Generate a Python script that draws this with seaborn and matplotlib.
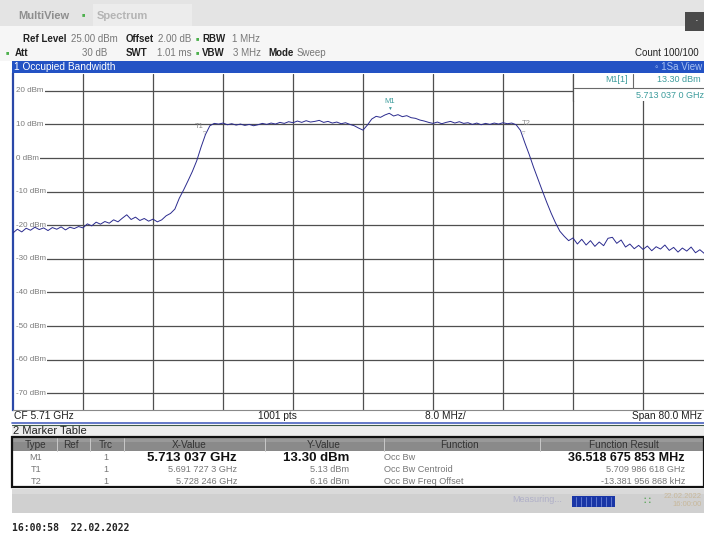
import numpy as np
import matplotlib
matplotlib.use("Agg")
import matplotlib.pyplot as plt
import seaborn as sns
from matplotlib.patches import Rectangle
from matplotlib.lines import Line2D
from matplotlib.transforms import blended_transform_factory

# ---------------- data ----------------
sweep_start_mhz = 5670.0
sweep_stop_mhz = 5750.0
sweep_points = 161
level_dbm = [
    -22.3, -21.2, -22.0, -20.9, -21.5, -20.6, -21.3, -20.8, -21.6, -20.7, -21.2, -20.5, -21.4, -20.6, -21.0, -20.4, -20.8,
    -19.6, -20.2, -19.1, -19.7, -18.9, -19.4, -18.4, -19.0, -17.9, -16.9, -18.3, -17.6, -18.6, -18.0, -18.8, -18.2, -19.0, -18.4, -17.2, -16.5,
    -15.2, -12.0, -9.5, -6.8, -4.0, -0.8, 3.3, 7.0, 9.6, 10.3,
    10.1, 10.4, 9.9, 10.2, 9.8, 10.1, 9.7, 10.0, 9.6, 9.9, 10.3, 10.0, 10.4, 10.1, 10.6, 10.3, 10.8, 10.5, 11.0, 10.6, 11.1, 10.7, 10.9, 11.2, 10.6, 10.9, 10.4, 10.7, 10.2, 10.5, 10.0, 9.6, 8.9,
    8.3, 9.8, 11.6, 12.4, 12.1, 12.8, 13.3, 12.5, 12.9, 12.3, 12.6, 12.0, 11.8, 11.3, 11.0, 10.6, 10.3, 10.7, 10.2, 10.6, 10.9, 10.4, 10.8, 10.3, 10.5, 10.0, 10.4, 9.9, 10.3, 10.0, 10.4, 10.1, 10.5, 10.2, 10.4, 9.9, 8.2,
    4.5, 1.0, -2.8, -6.3, -9.8, -13.2, -16.4, -19.3, -21.8, -23.3, -24.6,
    -23.8, -25.6, -24.2, -25.9, -24.6, -26.3, -25.0, -26.1, -23.9, -23.6, -25.4, -24.4, -26.5, -25.6, -27.0, -26.0, -27.2, -26.2, -27.6, -26.4, -27.1, -25.9, -27.5, -26.6, -28.0, -26.8, -27.7, -26.5, -28.2, -27.3, -28.4, -27.6, -28.3,
]
freq_mhz = np.linspace(sweep_start_mhz, sweep_stop_mhz, sweep_points)

ytick_vals = [20, 10, 0, -10, -20, -30, -40, -50, -60, -70]
ytick_labels = ["20 dBm", "10 dBm", "0 dBm", "-10 dBm", "-20 dBm", "-30 dBm",
                "-40 dBm", "-50 dBm", "-60 dBm", "-70 dBm"]
xgrid_mhz = [5678, 5686, 5694, 5702, 5710, 5718, 5726, 5734, 5742]

marker_names = ["M1", "T1", "T2"]
marker_freq = [5713.037, 5691.7273, 5728.246]
marker_level = [13.30, 5.13, 6.16]

tbl_type = ["M1", "T1", "T2"]
tbl_trc = ["1", "1", "1"]
tbl_x = ["5.713 037 GHz", "5.691 727 3 GHz", "5.728 246 GHz"]
tbl_y = ["13.30 dBm", "5.13 dBm", "6.16 dBm"]
tbl_func = ["Occ Bw", "Occ Bw Centroid", "Occ Bw Freq Offset"]
tbl_result = ["36.518 675 853 MHz", "5.709 986 618 GHz", "-13.381 956 868 kHz"]

# ---------------- figure ----------------
sns.set_style("white")
plt.rcParams["font.family"] = ["Liberation Sans", "DejaVu Sans"]

W, H = 704, 539
fig = plt.figure(figsize=(W / 100, H / 100), dpi=100)
fig.patch.set_facecolor("white")


def fx(x):
    return x / W


def fy(y):
    return 1 - y / H


def frect(x0, y0, x1, y1, color, z=0.1, **kw):
    fig.patches.append(Rectangle((fx(x0), fy(y1)), (x1 - x0) / W, (y1 - y0) / H,
                                 transform=fig.transFigure, facecolor=color,
                                 edgecolor="none", zorder=z, **kw))


def fline(x0, y0, x1, y1, color, lw=1.0, z=4):
    fig.lines.append(Line2D([fx(x0), fx(x1)], [fy(y0), fy(y1)], transform=fig.transFigure,
                            color=color, lw=lw, zorder=z))


def ftxt(x, y, s, **kw):
    kw.setdefault("va", "center")
    kw.setdefault("fontsize", 7)
    fig.text(fx(x), fy(y), s, **kw)


# header backgrounds
frect(0, 0, 704, 26, "#e4e4e4")
frect(0, 26, 704, 61, "#f6f6f6")
frect(93, 4, 192, 26, "#ececec")
ftxt(18, 16, "MultiView", fontsize=8, fontweight="bold", color="#8e8e8e")
ftxt(83, 15, "\u25a0", fontsize=4, color="#4cb04c", ha="center")
ftxt(97, 16, "Spectrum", fontsize=8, fontweight="bold", color="#b4b4b4")
frect(685, 12, 704, 31, "#4a4a4a")
ftxt(697, 21, "\u00b7", fontsize=8, color="white", ha="center")

ftxt(23, 39, "Ref Level", fontweight="bold", color="#222222")
ftxt(71, 39, "25.00 dBm", color="#777777")
ftxt(126, 39, "Offset", fontweight="bold", color="#222222")
ftxt(158, 39, "2.00 dB", color="#777777")
ftxt(197, 39, "\u25a0", fontsize=4, color="#4cb04c", ha="center")
ftxt(202, 39, "RBW", fontweight="bold", color="#222222")
ftxt(232, 39, "1 MHz", color="#777777")

ftxt(7, 53, "\u25a0", fontsize=4, color="#4cb04c", ha="center")
ftxt(15, 53, "Att", fontweight="bold", color="#222222")
ftxt(107, 53, "30 dB", color="#777777", ha="right")
ftxt(126, 53, "SWT", fontweight="bold", color="#222222")
ftxt(157, 53, "1.01 ms", color="#777777")
ftxt(197, 53, "\u25a0", fontsize=4, color="#4cb04c", ha="center")
ftxt(202, 53, "VBW", fontweight="bold", color="#222222")
ftxt(233, 53, "3 MHz", color="#777777")
ftxt(268, 53, "Mode", fontweight="bold", color="#222222")
ftxt(297, 53, "Sweep", color="#777777")
ftxt(635, 53, "Count 100/100", color="#222222")

# title bar
frect(12, 61, 704, 73, "#2352c4")
ftxt(14, 67, "1 Occupied Bandwidth", fontsize=7.3, color="white")
ftxt(655, 67, "\u25e6 1Sa View", fontsize=7, color="#a9c2f2")

# ---------------- spectrum axes ----------------
ax_left, ax_top, ax_bottom = 13, 74, 410
ax = fig.add_axes([fx(ax_left), fy(ax_bottom), 1 - fx(ax_left), (ax_bottom - ax_top) / H])
ax.set_facecolor("white")
x_right = sweep_start_mhz + (W - ax_left) * (sweep_stop_mhz - sweep_start_mhz) / 700
ax.set_xlim(sweep_start_mhz, x_right)
ax.set_ylim(-75, 25)
ax.set_xticks(xgrid_mhz)
ax.set_yticks(ytick_vals)
ax.tick_params(length=0, labelleft=False, labelbottom=False)
ax.grid(True, color="#4f4f4f", lw=0.9)
ax.set_axisbelow(True)
for s in ["top", "right"]:
    ax.spines[s].set_visible(False)
ax.spines["left"].set_color("#2a48a8")
ax.spines["left"].set_linewidth(1.6)
ax.spines["bottom"].set_color("#8a8a8a")
ax.spines["bottom"].set_linewidth(0.8)

trans_lbl = blended_transform_factory(ax.transAxes, ax.transData)
# white strip hides the grid to the left of the level labels
ax.add_patch(Rectangle((0, -75), 3.5 / (W - ax_left), 100, transform=trans_lbl,
                       facecolor="white", edgecolor="none", zorder=1.5))
for v, lab in zip(ytick_vals, ytick_labels):
    ax.text(3.5 / (W - ax_left), v, lab, transform=trans_lbl, fontsize=5.8, color="#7a7a7a",
            va="center", ha="left", zorder=2,
            bbox=dict(boxstyle="square,pad=0.1", facecolor="white", edgecolor="none"))

sns.lineplot(x=freq_mhz, y=level_dbm, ax=ax, color="#2b2b8e", lw=0.7, zorder=3,
             estimator=None, sort=False)

# markers
mcolors = ["#3c9c9c", "#8a8a8a", "#8a8a8a"]
for name, f, lv, c in zip(marker_names, marker_freq, marker_level, mcolors):
    if name == "M1":
        ax.annotate("\u25bc", (f, lv), xytext=(0, 3.5), textcoords="offset points",
                    ha="center", va="center", fontsize=3.5, color=c, zorder=4)
        ax.annotate(name, (f, lv), xytext=(0, 8.5), textcoords="offset points",
                    ha="center", va="center", fontsize=5.5, color=c, zorder=4)
    else:
        ax.annotate("\u25bd", (f, lv), xytext=(1.0, 5.0 if name == "T1" else 3.0),
                    textcoords="offset points", ha="center", va="center",
                    fontsize=3.2, color=c, zorder=4)
        ax.annotate(name, (f, lv), xytext=(-3.0 if name == "T1" else 2.5, 10.0),
                    textcoords="offset points", ha="center", va="center",
                    fontsize=5.5, color=c, zorder=4)

# marker info box
ax.add_patch(Rectangle((fx(574), fy(101)), (W - 574) / W, 27 / H, transform=fig.transFigure,
                       facecolor="white", edgecolor="none", zorder=2.5, clip_on=False))
ax.add_line(Line2D([fx(574), 1], [fy(88), fy(88)], transform=fig.transFigure,
                   color="#6a6a6a", lw=0.8, zorder=2.6))
ax.add_line(Line2D([fx(633), fx(633)], [fy(74), fy(88)], transform=fig.transFigure,
                   color="#6a6a6a", lw=0.8, zorder=2.6))
ax.add_line(Line2D([fx(573), fx(573)], [fy(74), fy(101)], transform=fig.transFigure,
                   color="#4f4f4f", lw=0.9, zorder=2.6))
ftxt(628, 80, "M1[1]", fontsize=6.5, color="#3c9c9c", ha="right")
ftxt(657, 80, "13.30 dBm", fontsize=6.5, color="#3c9c9c")
ftxt(636, 95, "5.713 037 0 GHz", fontsize=6.5, color="#3c9c9c")

# bottom info strip
ftxt(14, 416, "CF 5.71 GHz", fontsize=7.4, color="#202020")
ftxt(258, 416, "1001 pts", fontsize=7.3, color="#202020")
ftxt(425, 416, "8.0 MHz/", fontsize=7.3, color="#202020")
ftxt(702, 416, "Span 80.0 MHz", fontsize=7.3, color="#202020", ha="right")
fline(12, 423, 704, 423, "#4a62c0", lw=1.2)
fline(12, 425, 704, 425, "#3e5a4a", lw=0.8)

# marker table
frect(12, 426, 704, 437, "#eeeeee")
ftxt(13, 431, "2 Marker Table", fontsize=8, color="#222222")
frect(12, 437, 704, 487, "white")
frect(12, 437, 704, 451, "#8a8a8a")
frect(12, 437, 704, 442, "#999999")
for xs in [57, 90, 124, 265, 384, 540]:
    fline(xs, 438, xs, 451, "#c8c8c8", lw=0.7)
fig.patches.append(Rectangle((fx(12), fy(487)), (W - 12) / W, 50 / H, transform=fig.transFigure,
                             facecolor="none", edgecolor="#111111", lw=1.6, zorder=4))
hdr_c = "#333333"
ftxt(36, 445, "Type", ha="center", color=hdr_c, fontsize=7.2)
ftxt(71, 445, "Ref", ha="center", color=hdr_c, fontsize=7.2)
ftxt(106, 445, "Trc", ha="center", color=hdr_c, fontsize=7.2)
ftxt(189, 445, "X-Value", ha="center", color=hdr_c, fontsize=7.2)
ftxt(324, 445, "Y-Value", ha="center", color=hdr_c, fontsize=7.2)
ftxt(459, 445, "Function", ha="center", color=hdr_c, fontsize=7.2)
ftxt(624, 445, "Function Result", ha="center", color=hdr_c, fontsize=7.2)

row_y = [458, 470, 481]
for i in range(3):
    bold = i == 0
    main_c = "#111111" if bold else "#777777"
    fs = 9.5 if bold else 6.6
    fw = "bold" if bold else "normal"
    ftxt(36, row_y[i], tbl_type[i], ha="center", color="#777777", fontsize=6.6)
    ftxt(106, row_y[i], tbl_trc[i], ha="center", color="#777777", fontsize=6.6)
    ftxt(237, row_y[i], tbl_x[i], ha="right", color=main_c, fontsize=fs, fontweight=fw)
    ftxt(349, row_y[i], tbl_y[i], ha="right", color=main_c, fontsize=fs, fontweight=fw)
    ftxt(384, row_y[i], tbl_func[i], ha="left", color="#777777", fontsize=6.6)
    ftxt(685, row_y[i], tbl_result[i], ha="right", color=main_c,
         fontsize=9 if bold else 6.6, fontweight=fw)

# status bar
frect(12, 489, 704, 513, "#d0d0d0")
frect(12, 489, 704, 494, "#dadada")
ftxt(512, 500, "Measuring...", fontsize=6.5, color="#b0b0c8")
frect(572, 496, 615, 507, "#1a36a6")
for xs in range(576, 614, 5):
    fline(xs, 497, xs, 506, "#6c84d8", lw=0.6, z=5)
ftxt(647, 501, "\u2237", fontsize=8, color="#4aa04a", ha="center")
ftxt(664, 496, "22.02.2022", fontsize=5.5, color="#c8b89a")
ftxt(672, 505, "16:00:00", fontsize=5.5, color="#c8b89a")

ftxt(12, 528, "16:00:58  22.02.2022", fontsize=7, fontweight="bold",
     color="#222222", family="DejaVu Sans Mono")

fig.savefig("out.png", dpi=100)
